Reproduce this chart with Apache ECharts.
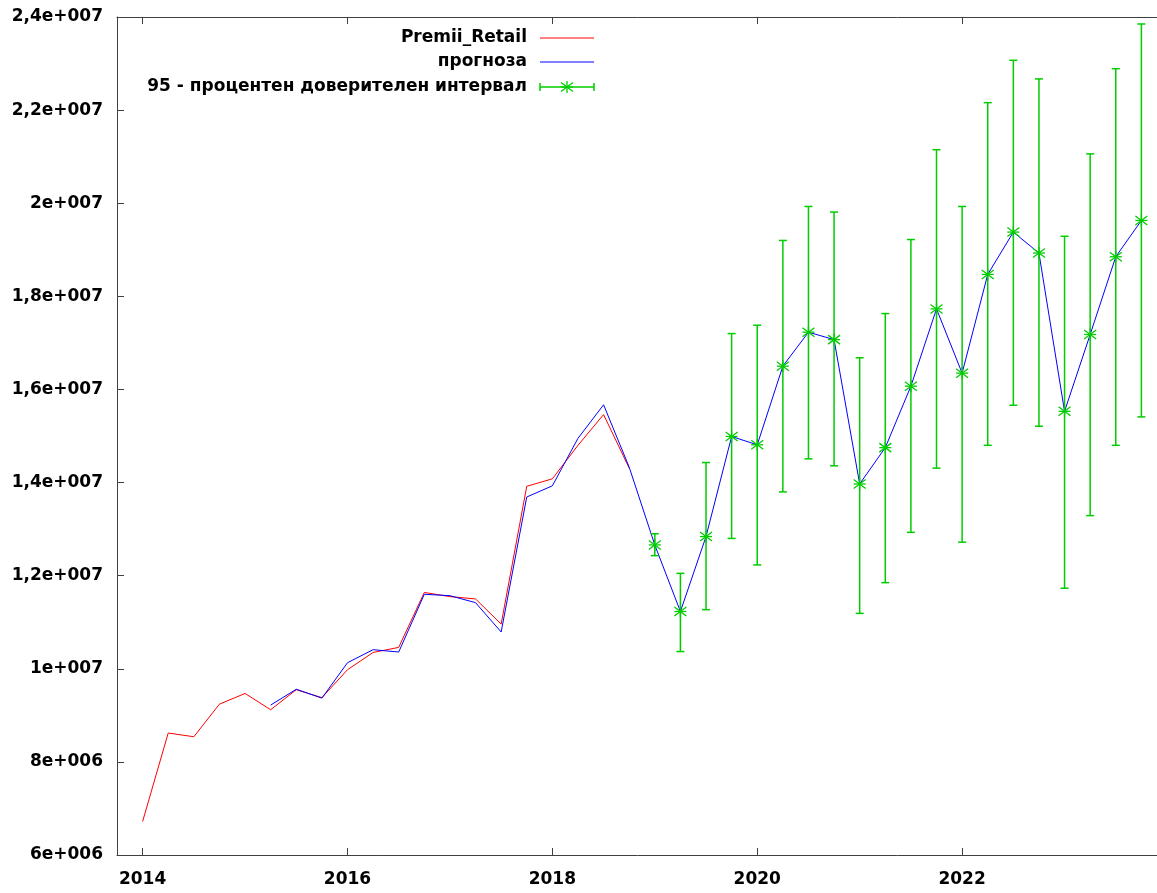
<!DOCTYPE html>
<html>
<head>
<meta charset="utf-8">
<script src="https://cdn.jsdelivr.net/npm/echarts@6/dist/echarts.min.js"></script>
<style>
html,body{margin:0;padding:0;background:#fff;}
#chart{width:1157px;height:893px;}
</style>
</head>
<body>
<div id="chart"></div>
<script>
// Quarterly periods
const quarters = [
  '2014:1','2014:2','2014:3','2014:4','2015:1','2015:2','2015:3','2015:4',
  '2016:1','2016:2','2016:3','2016:4','2017:1','2017:2','2017:3','2017:4',
  '2018:1','2018:2','2018:3','2018:4','2019:1','2019:2','2019:3','2019:4',
  '2020:1','2020:2','2020:3','2020:4','2021:1','2021:2','2021:3','2021:4',
  '2022:1','2022:2','2022:3','2022:4','2023:1','2023:2','2023:3','2023:4'
];
// Premii_Retail (actual), 2014:1 - 2018:4
const premiiRetail = [
  6.72e6, 8.62e6, 8.54e6, 9.24e6, 9.47e6, 9.12e6, 9.55e6, 9.38e6,
  9.98e6, 10.35e6, 10.46e6, 11.64e6, 11.55e6, 11.50e6, 10.96e6, 13.92e6,
  14.08e6, 14.80e6, 15.46e6, 14.31e6
];
// прогноза (fitted + forecast), starts 2015:2
const prognoza = [
  null, null, null, null, null, 9.22e6, 9.56e6, 9.37e6,
  10.13e6, 10.41e6, 10.36e6, 11.60e6, 11.57e6, 11.42e6, 10.79e6, 13.69e6,
  13.93e6, 14.95e6, 15.67e6, 14.33e6,
  12.66e6, 11.23e6, 12.84e6, 14.99e6, 14.81e6, 16.50e6, 17.23e6, 17.07e6,
  13.97e6, 14.75e6, 16.07e6, 17.73e6, 16.35e6, 18.47e6, 19.38e6, 18.93e6,
  15.53e6, 17.18e6, 18.85e6, 19.63e6
];
// 95% interval, 2019:1 - 2023:4
const ciLower = [
  12.43e6, 10.37e6, 11.27e6, 12.80e6, 12.23e6, 13.80e6, 14.51e6, 14.36e6,
  11.19e6, 11.85e6, 12.93e6, 14.31e6, 12.72e6, 14.80e6, 15.66e6, 15.21e6,
  11.73e6, 13.29e6, 14.80e6, 15.41e6
];
const ciUpper = [
  12.90e6, 12.05e6, 14.43e6, 17.20e6, 17.38e6, 19.20e6, 19.93e6, 19.81e6,
  16.68e6, 17.63e6, 19.22e6, 21.15e6, 19.93e6, 22.16e6, 23.07e6, 22.67e6,
  19.29e6, 21.06e6, 22.89e6, 23.85e6
];
const forecastStart = 20;
// Axis ticks
const xTickValues = [2014, 2016, 2018, 2020, 2022];
const xTickLabels = ['2014', '2016', '2018', '2020', '2022'];
const yTickValues = [6e6, 8e6, 10e6, 12e6, 14e6, 16e6, 18e6, 20e6, 22e6, 24e6];
const yTickLabels = ['6e+006','8e+006','1e+007','1,2e+007','1,4e+007','1,6e+007','1,8e+007','2e+007','2,2e+007','2,4e+007'];
const legendNames = ['Premii_Retail', 'прогноза', '95 - процентен доверителен интервал'];

const RED = '#ff0000', BLUE = '#0000ff', GREEN = '#00cc00', AXIS = '#404040';
const FONT = 'DejaVu Sans';

function qx(q) { const p = q.split(':'); return +p[0] + (+p[1] - 1) / 4; }
const xs = quarters.map(qx);

const redData = premiiRetail.map((v, i) => [xs[i], v]);
const blueData = prognoza.map((v, i) => v == null ? null : [xs[i], v]).filter(d => d);
const ciData = ciLower.map((lo, i) => [xs[forecastStart + i], prognoza[forecastStart + i], lo, ciUpper[i]]);

const chart = echarts.init(document.getElementById('chart'), null, {renderer: 'canvas'});

function lineEl(x1, y1, x2, y2, w) {
  return {type: 'line', shape: {x1, y1, x2, y2}, style: {stroke: GREEN, lineWidth: w || 1.5, fill: null}, silent: true};
}
function starEls(cx, cy) {
  const h = 6, d = 4.5;
  return [
    lineEl(cx - h, cy, cx + h, cy, 1.3),
    lineEl(cx, cy - h, cx, cy + h, 1.3),
    lineEl(cx - h, cy - d, cx + h, cy + d, 1.3),
    lineEl(cx - h, cy + d, cx + h, cy - d, 1.3)
  ];
}

const yFmt = v => {
  const idx = Math.round((v - yTickValues[0]) / (yTickValues[1] - yTickValues[0]));
  return yTickLabels[idx] || '';
};
const xFmt = v => {
  const idx = xTickValues.indexOf(Math.round(v));
  return idx >= 0 ? xTickLabels[idx] : '';
};

const labelStyle = {color: '#000', fontFamily: FONT, fontWeight: 'bold', fontSize: 17};

// legend drawn with graphic
const legX = 527, legLine0 = 540, legLine1 = 594, legYs = [38, 62, 87];
const legendGraphics = [];
legendNames.forEach((name, i) => {
  legendGraphics.push({type: 'text', x: legX, y: legYs[i], style: {text: name, align: 'right', verticalAlign: 'middle', fill: '#000', font: 'bold 17px "DejaVu Sans"'}});
});
legendGraphics.push({type: 'line', shape: {x1: legLine0, y1: legYs[0], x2: legLine1, y2: legYs[0]}, style: {stroke: RED, lineWidth: 1}});
legendGraphics.push({type: 'line', shape: {x1: legLine0, y1: legYs[1], x2: legLine1, y2: legYs[1]}, style: {stroke: BLUE, lineWidth: 1}});
legendGraphics.push(lineEl(legLine0, legYs[2], legLine1, legYs[2]));
legendGraphics.push(lineEl(legLine0, legYs[2] - 4, legLine0, legYs[2] + 4));
legendGraphics.push(lineEl(legLine1, legYs[2] - 4, legLine1, legYs[2] + 4));
starEls((legLine0 + legLine1) / 2, legYs[2]).forEach(e => legendGraphics.push(e));

const option = {
  backgroundColor: '#fff',
  animation: false,
  grid: {left: 117, top: 17, width: 1050, height: 838, containLabel: false, outerBoundsMode: 'none'},
  xAxis: [{
    type: 'value', min: 2013.75, max: 2024, position: 'bottom',
    splitLine: {show: false},
    axisLine: {show: true, onZero: false, lineStyle: {color: AXIS, width: 1}},
    axisTick: {show: true, inside: true, length: 7, customValues: xTickValues, lineStyle: {color: AXIS}},
    axisLabel: Object.assign({margin: 16, customValues: xTickValues, formatter: xFmt, hideOverlap: false}, labelStyle)
  }, {
    type: 'value', min: 2013.75, max: 2024, position: 'top',
    splitLine: {show: false},
    axisLine: {show: true, onZero: false, lineStyle: {color: AXIS, width: 1}},
    axisTick: {show: true, inside: true, length: 7, customValues: xTickValues, lineStyle: {color: AXIS}},
    axisLabel: {show: false}
  }],
  yAxis: [{
    type: 'value', min: 6e6, max: 24e6, interval: 2e6, position: 'left',
    splitLine: {show: false},
    axisLine: {show: true, onZero: false, lineStyle: {color: AXIS, width: 1}},
    axisTick: {show: true, inside: true, length: 7, lineStyle: {color: AXIS}},
    axisLabel: Object.assign({margin: 14, formatter: yFmt}, labelStyle)
  }],
  series: [{
    name: legendNames[0], type: 'line', data: redData, showSymbol: false, symbol: 'none',
    lineStyle: {color: RED, width: 1}, itemStyle: {color: RED}, z: 2
  }, {
    name: legendNames[1], type: 'line', data: blueData, showSymbol: false, symbol: 'none',
    lineStyle: {color: BLUE, width: 1}, itemStyle: {color: BLUE}, z: 3
  }, {
    name: legendNames[2], type: 'custom', data: ciData, z: 4,
    encode: {x: 0, y: [1, 2, 3]},
    renderItem: function (params, api) {
      const x = api.value(0);
      const pt = api.coord([x, api.value(1)]);
      const pl = api.coord([x, api.value(2)]);
      const ph = api.coord([x, api.value(3)]);
      const c = 4;
      const children = [
        lineEl(pl[0], pl[1], ph[0], ph[1]),
        lineEl(ph[0] - c, ph[1], ph[0] + c, ph[1]),
        lineEl(pl[0] - c, pl[1], pl[0] + c, pl[1])
      ].concat(starEls(pt[0], pt[1]));
      return {type: 'group', children: children};
    }
  }],
  graphic: legendGraphics
};
chart.setOption(option);
</script>
</body>
</html>
